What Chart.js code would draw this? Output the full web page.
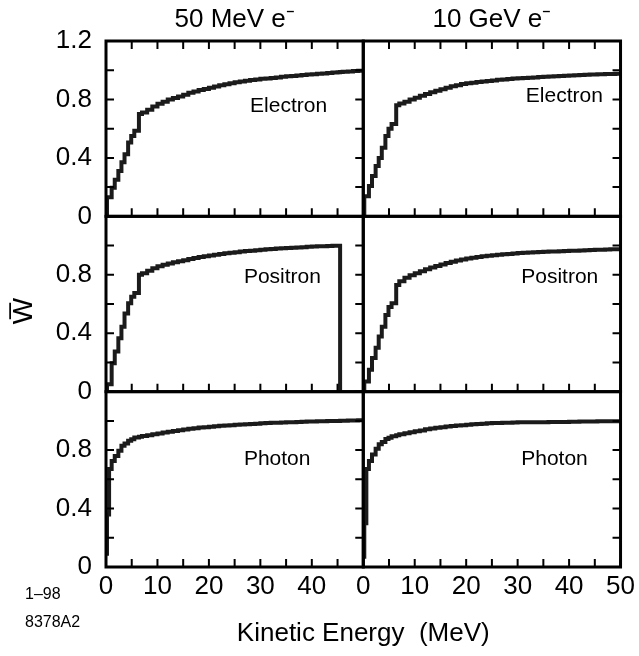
<!DOCTYPE html>
<html>
<head>
<meta charset="utf-8">
<title>W vs kinetic energy</title>
<script src="https://cdn.jsdelivr.net/npm/chart.js@4.4.1/dist/chart.umd.min.js"></script>
<style>
  html, body { margin: 0; padding: 0; background: #fff; }
</style>
</head>
<body>
<canvas id="chart" width="639" height="656"></canvas>
<script>
// bin edges (MeV), each W value holds from its edge to the next one
const energy = [0, 0.2, 0.6, 1.1, 1.7, 2.4, 3.0, 3.6, 4.3, 4.9, 5.5, 6.4,
  7, 8, 9, 10, 11, 12, 13, 14, 15, 16, 17, 18, 19, 20, 21, 22, 23, 24, 25, 26,
  27, 28, 29, 30, 31, 32, 33, 34, 35, 36, 37, 38, 39, 40, 41, 42, 43, 44, 45,
  45.5, 46, 47, 48, 49, 50];

const electron50MeV = [0, 0.13, 0.13, 0.195, 0.25, 0.31, 0.37, 0.425, 0.505, 0.55, 0.585, 0.70,
  0.71, 0.73, 0.752, 0.77, 0.785, 0.80, 0.81, 0.82, 0.832, 0.845, 0.855, 0.864, 0.872, 0.88,
  0.888, 0.897, 0.904, 0.911, 0.917, 0.922, 0.928, 0.933, 0.937, 0.941, 0.944, 0.947, 0.951,
  0.955, 0.958, 0.961, 0.964, 0.968, 0.971, 0.973, 0.976, 0.978, 0.981, 0.984, 0.986,
  0.988, 0.99, 0.992, 0.994, 0.997, 1.0];
const electron10GeV = [0, 0.138, 0.138, 0.207, 0.276, 0.345, 0.40, 0.47, 0.55, 0.60, 0.632, 0.76,
  0.772, 0.785, 0.80, 0.812, 0.825, 0.837, 0.849, 0.86, 0.87, 0.88, 0.89, 0.898, 0.905, 0.911,
  0.915, 0.919, 0.923, 0.926, 0.93, 0.934, 0.937, 0.94, 0.943, 0.945, 0.947, 0.949, 0.951,
  0.953, 0.955, 0.957, 0.959, 0.961, 0.962, 0.964, 0.966, 0.967, 0.969, 0.97, 0.971,
  0.972, 0.973, 0.974, 0.975, 0.976, 0.977];
const positron50MeV = [0, 0.05, 0.05, 0.195, 0.275, 0.365, 0.445, 0.535, 0.605, 0.65, 0.675, 0.80,
  0.81, 0.827, 0.845, 0.858, 0.868, 0.877, 0.885, 0.893, 0.90, 0.908, 0.915, 0.921, 0.927, 0.932,
  0.937, 0.942, 0.947, 0.951, 0.955, 0.959, 0.962, 0.965, 0.968, 0.971, 0.974, 0.977, 0.979,
  0.981, 0.983, 0.985, 0.987, 0.989, 0.991, 0.993, 0.995, 0.996, 0.997, 0.998, 0.999,
  0, null, null, null, null, null];
const positron10GeV = [0, 0.07, 0.07, 0.15, 0.23, 0.30, 0.377, 0.445, 0.525, 0.58, 0.605, 0.73,
  0.755, 0.78, 0.797, 0.81, 0.825, 0.838, 0.85, 0.86, 0.87, 0.88, 0.89, 0.898, 0.905, 0.911,
  0.917, 0.921, 0.926, 0.93, 0.934, 0.937, 0.94, 0.943, 0.946, 0.949, 0.951, 0.953, 0.955,
  0.956, 0.957, 0.959, 0.96, 0.961, 0.963, 0.964, 0.965, 0.966, 0.968, 0.969, 0.971,
  0.972, 0.972, 0.973, 0.974, 0.975, 0.976];
const photon50MeV = [0.09, 0.36, 0.67, 0.726, 0.76, 0.795, 0.83, 0.845, 0.864, 0.875, 0.887, 0.892,
  0.897, 0.902, 0.908, 0.914, 0.92, 0.926, 0.931, 0.936, 0.941, 0.946, 0.95, 0.954, 0.957, 0.96,
  0.963, 0.966, 0.969, 0.971, 0.973, 0.975, 0.977, 0.979, 0.981, 0.983, 0.985, 0.987, 0.988,
  0.989, 0.99, 0.991, 0.993, 0.994, 0.995, 0.996, 0.997, 0.998, 0.999, 1.0, 1.0,
  1.001, 1.001, 1.002, 1.003, 1.004, 1.005];
const photon10GeV = [0.07, 0.30, 0.67, 0.726, 0.77, 0.81, 0.84, 0.855, 0.876, 0.885, 0.895, 0.902,
  0.908, 0.915, 0.922, 0.929, 0.935, 0.942, 0.948, 0.953, 0.957, 0.961, 0.965, 0.968, 0.971, 0.974,
  0.977, 0.979, 0.981, 0.983, 0.985, 0.986, 0.987, 0.988, 0.989, 0.99, 0.99, 0.99, 0.991,
  0.991, 0.991, 0.992, 0.992, 0.993, 0.993, 0.994, 0.994, 0.995, 0.995, 0.996, 0.996,
  0.997, 0.997, 0.997, 0.998, 0.998, 0.998];

const beams = ["50 MeV e\u207B", "10 GeV e\u207B"];
const particles = ["Electron", "Positron", "Photon"];

const FONT = "'Liberation Sans', Arial, Helvetica, sans-serif";
Chart.defaults.font.family = FONT;
Chart.defaults.color = "#000";

// which axes each panel uses, and where its particle name sits (data units)
const panels = [
  { x: "x0", y: "yTop", w: electron50MeV, name: 0, at: [28, 0.712] },
  { x: "x1", y: "yTop", w: electron10GeV, name: 0, at: [31.6, 0.781] },
  { x: "x0", y: "yMid", w: positron50MeV, name: 1, at: [26.8, 0.746] },
  { x: "x1", y: "yMid", w: positron10GeV, name: 1, at: [30.7, 0.746] },
  { x: "x0", y: "yBot", w: photon50MeV, name: 2, at: [26.8, 0.697] },
  { x: "x1", y: "yBot", w: photon10GeV, name: 2, at: [30.7, 0.697] },
];

const datasets = panels.map(p => ({
  data: energy.map((e, i) => ({ x: e, y: p.w[i] })),
  xAxisID: p.x,
  yAxisID: p.y,
  stepped: true,
  borderColor: "#1b1b1b",
  borderWidth: 4,
  pointRadius: 0,
  spanGaps: false,
  fill: false,
}));

function xScale(last) {
  return {
    type: "linear", position: "bottom", stack: "xs",
    min: 0, max: 50,
    ticks: {
      stepSize: 5, autoSkip: false, maxRotation: 0, padding: 4,
      font: { size: 26 },
      callback: v => (v % 10 === 0 && (last || v < 50)) ? String(v) : "",
    },
    grid: { display: false, drawTicks: false },
    border: { display: false },
    afterFit: s => { s.height = 50; },
  };
}

function topScale(title, weight) {
  return {
    type: "linear", position: "top", stack: "xt", weight: weight,
    min: 0, max: 50,
    ticks: { display: false },
    grid: { display: false, drawTicks: false },
    border: { display: false },
    title: { display: true, text: title, font: { size: 26 }, padding: { top: 4, bottom: 0 } },
    afterFit: s => { s.height = 41; },
  };
}

function yScale(weight, showTop, title) {
  return {
    type: "linear", position: "left", stack: "ys", weight: weight,
    min: 0, max: 1.2,
    ticks: {
      stepSize: 0.2, autoSkip: false, padding: 14,
      font: { size: 26 },
      callback: v => {
        const k = Math.round(v * 10);
        if (k === 0) return "0";
        if (k === 4 || k === 8 || (k === 12 && showTop)) return (k / 10).toFixed(1);
        return "";
      },
    },
    grid: { display: false, drawTicks: false },
    border: { display: false },
    title: title ? { display: true, text: title, font: { size: 28 }, padding: { top: 7, bottom: 0 } } : { display: false },
    afterFit: s => { s.width = 106; },
  };
}

// frames with inward tick marks, plus the free text on the plot
const framePlugin = {
  id: "frames",
  afterDatasetsDraw(chart) {
    const ctx = chart.ctx;
    ctx.save();
    ctx.strokeStyle = "#000";
    panels.forEach(p => {
      const xs = chart.scales[p.x], ys = chart.scales[p.y];
      const leftCol = p.x === "x0", topRow = p.y === "yTop";
      ctx.lineWidth = 2;
      ctx.beginPath();
      xs.ticks.forEach(t => {
        const px = xs.getPixelForValue(t.value);
        ctx.moveTo(px, ys.bottom); ctx.lineTo(px, ys.bottom - 8);
        if (topRow) { ctx.moveTo(px, ys.top); ctx.lineTo(px, ys.top + 8); }
      });
      ys.ticks.forEach(t => {
        const py = ys.getPixelForValue(t.value);
        if (leftCol) { ctx.moveTo(xs.left, py); ctx.lineTo(xs.left + 8, py); }
        ctx.moveTo(xs.right, py); ctx.lineTo(xs.right - 8, py);
      });
      ctx.stroke();
      ctx.lineWidth = 3;
      ctx.strokeRect(xs.left, ys.top, xs.right - xs.left, ys.bottom - ys.top);

      ctx.fillStyle = "#000";
      ctx.font = "21px " + FONT;
      ctx.textAlign = "left";
      ctx.textBaseline = "alphabetic";
      ctx.fillText(particles[p.name], xs.getPixelForValue(p.at[0]), ys.getPixelForValue(p.at[1]));
    });
    ctx.font = "16px " + FONT;
    ctx.fillText("1\u201398", 25, 599);
    ctx.fillText("8378A2", 25, 627);
    ctx.restore();
  },
};

new Chart(document.getElementById("chart"), {
  type: "line",
  data: { datasets },
  options: {
    responsive: false,
    animation: false,
    layout: { padding: { left: 0, right: 11, top: 0, bottom: 0 } },
    plugins: {
      legend: { display: false },
      tooltip: { enabled: false },
      title: {
        display: true, position: "bottom", fullSize: false,
        text: "Kinetic Energy  (MeV)",
        font: { size: 26, weight: "normal" },
        color: "#000",
        padding: { top: 1.4, bottom: 6.4 },
      },
    },
    scales: {
      x0: xScale(false),
      x1: xScale(true),
      xt0: topScale(beams[0], 1),
      xt1: topScale(beams[1], 0),
      yTop: yScale(3, true, null),
      yMid: yScale(2, false, "W\u0305\u2002"),
      yBot: yScale(1, false, null),
    },
  },
  plugins: [framePlugin],
});
</script>
</body>
</html>
